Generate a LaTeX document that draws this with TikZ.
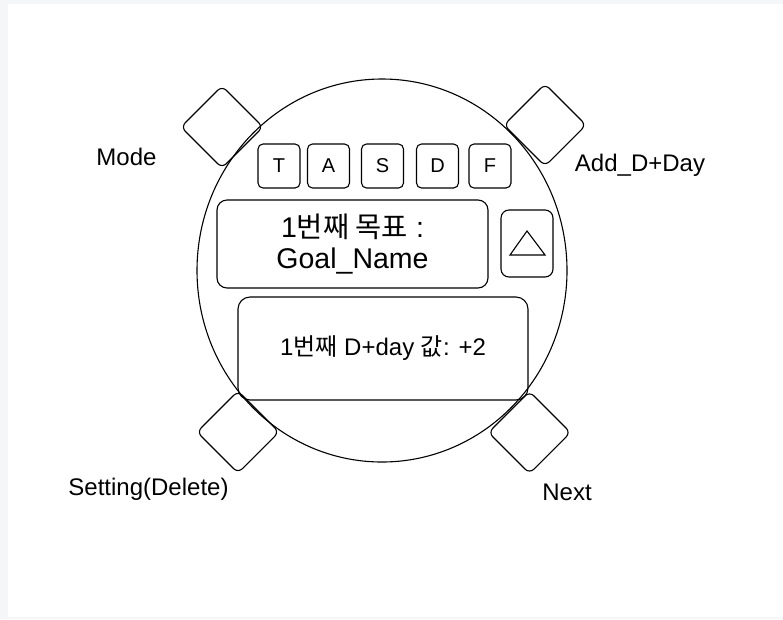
\documentclass[tikz,border=0pt]{standalone}
\usepackage{fontspec}
\setmainfont{Liberation Sans}
\newfontfamily\kr{Noto Sans CJK KR}
\definecolor{frame}{HTML}{F4F6F8}

\begin{document}
\begin{tikzpicture}[x=1pt,y=-1pt,line width=1.1pt,
    btn/.style={draw, rotate=45, minimum size=58pt, rounded corners=6pt, inner sep=0pt},
    keybox/.style={draw, rounded corners=5pt, minimum width=42pt, minimum height=44pt, inner sep=0pt, font=\fontsize{20}{22}\selectfont},
    screen/.style={draw, rounded corners=10pt, inner sep=0pt, align=center},
    lbl/.style={font=\fontsize{24}{28}\selectfont, inner sep=0pt}]
    \useasboundingbox (0,0) rectangle (783,619);
    \fill[frame] (0,0) rectangle (783,619);
    \fill[white] (8,4) rectangle (783,617);
    % watch body
    \draw (382,270.5) ellipse (185pt and 191.5pt);
    % corner buttons
    \node[btn] (modebtn) at (222,127) {};
    \node[btn] (addbtn) at (545,125) {};
    \node[btn] (setbtn) at (238,432) {};
    \node[btn] (nextbtn) at (529.5,432.5) {};
    \node[lbl] (modelbl) at (126.5,157) {Mode};
    \node[lbl] (addlbl) at (640,165) {Add\_D+Day};
    \node[lbl] (setlbl) at (148.5,489) {Setting(Delete)};
    \node[lbl] (nextlbl) at (567,492) {Next};
    % top keys
    \node[keybox] (keyT) at (279,166) {T};
    \node[keybox] (keyA) at (328.5,166) {A};
    \node[keybox] (keyS) at (382.5,166) {S};
    \node[keybox] (keyD) at (437.5,166) {D};
    \node[keybox] (keyF) at (490,166) {F};
    % screens
    \node[screen, minimum width=271pt, minimum height=88pt, font=\fontsize{28.5}{31}\selectfont] (goal) at (352.5,244) {1{\kr 번째 목표} :\\Goal\_Name};
    \node[screen, rounded corners=8pt, minimum width=52pt, minimum height=67pt] (upbtn) at (527,243.5) {};
    \draw (527,231) -- (545,255) -- (510,255) -- cycle;
    \node[screen, rounded corners=12pt, minimum width=290pt, minimum height=103pt, font=\fontsize{24}{28}\selectfont] (dday) at (383,348.5) {1{\kr 번째} D+day {\kr 값}: +2};
\end{tikzpicture}
\end{document}
